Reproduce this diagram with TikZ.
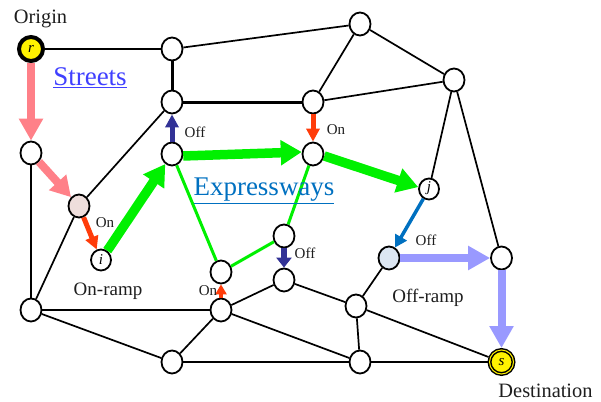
\documentclass[tikz,border=0pt]{standalone}
\usepackage{fontspec}
\setmainfont{Liberation Serif}
\usetikzlibrary{arrows.meta,shapes.geometric}
\definecolor{pinkc}{RGB}{255,128,136}
\definecolor{greenc}{RGB}{0,240,0}
\definecolor{redc}{RGB}{255,60,10}
\definecolor{navyc}{RGB}{50,50,150}
\definecolor{bluec}{RGB}{0,112,192}
\definecolor{peric}{RGB}{153,153,255}
\definecolor{streetc}{RGB}{64,64,255}
\definecolor{txtc}{RGB}{30,30,30}
\definecolor{onfill}{RGB}{238,222,220}
\definecolor{offfill}{RGB}{220,230,242}
\tikzset{
  x=1pt,y=-1pt,
  jct/.style={ellipse,draw=black,line width=1.8pt,fill=white,minimum width=21pt,minimum height=23pt,inner sep=0pt},
  term/.style={circle,draw=black,line width=4pt,fill=yellow,minimum size=24pt,inner sep=0pt,font=\fontsize{15}{15}\selectfont\itshape},
  ring/.style={draw=yellow,line width=1pt},
  road/.style={black,line width=1.7pt},
  main/.style={black,line width=3pt},
  link/.style={greenc,line width=3pt},
  big/.style={line width=8pt,-{Triangle[length=22pt,width=23pt]}},
  bigger/.style={line width=9.5pt,-{Triangle[length=21pt,width=24pt]}},
  mid/.style={line width=5pt,-{Triangle[length=13pt,width=13pt]}},
  lab/.style={inner sep=0pt,text=txtc},
  small/.style={lab,font=\fontsize{15}{15}\selectfont},
  medium/.style={lab,font=\fontsize{19}{19}\selectfont},
  large/.style={lab,font=\fontsize{20.4}{20.4}\selectfont},
  heading/.style={inner sep=0pt,font=\fontsize{27}{27}\selectfont},
  letter/.style={inner sep=0pt,font=\fontsize{15}{15}\selectfont\itshape},
}
\begin{document}
\begin{tikzpicture}
\useasboundingbox (0,0) rectangle (601,401);
% junctions
\node[term] (r) at (31,49) {r};
\node[jct] (a) at (172,49) {};
\node[jct] (b) at (172,102) {};
\node[jct] (c) at (313,102) {};
\node[jct] (top) at (360,24) {};
\node[jct] (e) at (454,80) {};
\node[jct] (f) at (31,153) {};
\node[jct] (g) at (172,154) {};
\node[jct] (h) at (313,154) {};
\node[jct,minimum width=20pt,minimum height=21pt] (j) at (429,189) {};
\node[jct,fill=onfill] (p) at (79,206) {};
\node[jct,minimum width=20pt,minimum height=21pt] (i) at (101,260) {};
\node[jct] (k) at (221,272) {};
\node[jct] (l) at (284,236) {};
\node[jct] (m) at (284,280) {};
\node[jct] (n) at (221,310) {};
\node[jct] (o) at (31,310) {};
\node[jct] (q) at (172,362) {};
\node[jct] (t) at (360,362) {};
\node[jct] (u) at (356,306) {};
\node[jct,fill=offfill] (v) at (389,258) {};
\node[jct] (w) at (501.5,258) {};
\node[term] (s) at (501.5,362) {s};
\node[letter] (jl) at (429,188) {j};
\node[letter] (il) at (101,260) {i};
\draw[ring] (s) circle (12pt);
% streets
\draw[road] (r) -- (a);
\draw[road] (a) -- (top);
\draw[main] (a) -- (b);
\draw[main] (b) -- (c);
\draw[road] (top) -- (c);
\draw[road] (top) -- (e);
\draw[road] (c) -- (e);
\draw[road] (e) -- (j);
\draw[road] (e) -- (w);
\draw[road] (f) -- (o);
\draw[road] (b) -- (p);
\draw[road] (p) -- (o);
\draw[road] (o) -- (n);
\draw[road] (o) -- (q);
\draw[road] (q) -- (n);
\draw[road] (q) -- (t);
\draw[road] (n) -- (m);
\draw[road] (n) -- (t);
\draw[road] (m) -- (u);
\draw[road] (u) -- (s);
\draw[road] (u) -- (t);
\draw[road] (u) -- (v);
\draw[road] (t) -- (s);
% expressway links
\draw[link] (g) -- (k);
\draw[link] (k) -- (l);
\draw[link] (l) -- (h);
% route
\draw[big,pinkc] (r) -- (f);
\draw[pinkc,line width=8pt,-{Triangle[length=20pt,width=22pt]}] (f) -- (p);
\draw[mid,redc] (p) -- (i);
\draw[bigger,greenc] (i) -- (g);
\draw[bigger,greenc] (g.-10) -- (h.170);
\draw[bigger,greenc] (h.-10) -- (j.170);
\draw[mid,navyc] (g) -- (b);
\draw[mid,redc] (c) -- (h);
\draw[bluec,line width=3.5pt,-{Triangle[length=12pt,width=13pt]}] (j) -- (v);
\draw[big,peric] (v) -- (w);
\draw[big,peric] (w) -- (s);
\draw[redc,line width=4.5pt,-{Triangle[length=10pt,width=11pt]}] (n) -- (k);
\draw[navyc,line width=6pt,-{Triangle[length=10pt,width=15pt]}] (l) -- (m);
% labels
\node[large] (origin) at (40.5,19) {Origin};
\node[large] (dest) at (545.5,391) {Destination};
\node[heading,text=streetc] (streets) at (90,78) {\underline{Streets}};
\node[heading,text=bluec] (express) at (264,191) {\underline{Expressways}};
\node[medium] (onramp) at (108,291) {On-ramp};
\node[medium] (offramp) at (428,298) {Off-ramp};
\node[small] (off1) at (195,132) {Off};
\node[small] (on1) at (336,130) {On};
\node[small] (on2) at (105,223) {On};
\node[small] (off2) at (305,253) {Off};
\node[small] (on3) at (208,291) {On};
\node[small] (off3) at (426,240) {Off};
\end{tikzpicture}
\end{document}
